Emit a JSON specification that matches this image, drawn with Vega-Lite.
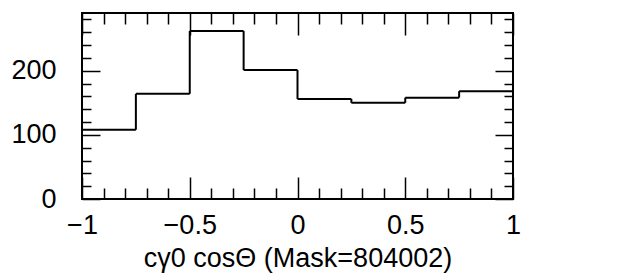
{
  "$schema": "https://vega.github.io/schema/vega-lite/v6.json",
  "width": 431,
  "height": 186,
  "autosize": {"type": "none"},
  "padding": {"left": 82, "top": 13, "right": 116, "bottom": 81},
  "background": "white",
  "config": {
    "view": {"stroke": "black", "strokeWidth": 2},
    "axis": {
      "grid": false,
      "domain": false,
      "labelFont": "Liberation Sans",
      "titleFont": "Liberation Sans",
      "labelFontSize": 27,
      "titleFontSize": 27,
      "titleFontWeight": "normal",
      "labelColor": "black",
      "titleColor": "black",
      "tickColor": "black",
      "tickWidth": 1.5
    }
  },
  "data": {
    "values": [
      {"lo": -1, "hi": -0.75, "count": 108},
      {"lo": -0.75, "hi": -0.5, "count": 164},
      {"lo": -0.5, "hi": -0.25, "count": 262},
      {"lo": -0.25, "hi": 0, "count": 201},
      {"lo": 0, "hi": 0.25, "count": 156},
      {"lo": 0.25, "hi": 0.5, "count": 150},
      {"lo": 0.5, "hi": 0.75, "count": 158},
      {"lo": 0.75, "hi": 1, "count": 168}
    ]
  },
  "layer": [
    {
      "mark": {"type": "rule", "strokeWidth": 2, "color": "black"},
      "encoding": {
        "x": {
          "field": "lo", "type": "quantitative",
          "scale": {"domain": [-1, 1], "nice": false, "zero": false},
          "axis": {
            "orient": "bottom",
            "values": [-1, -0.9, -0.8, -0.7, -0.6, -0.5, -0.4, -0.3, -0.2, -0.1, 0, 0.1, 0.2, 0.3, 0.4, 0.5, 0.6, 0.7, 0.8, 0.9, 1],
            "labelExpr": "abs(datum.value*2-round(datum.value*2))<0.001 ? format(datum.value, '~g') : ''",
            "tickSize": {"condition": {"test": "abs(datum.value*2-round(datum.value*2))<0.001", "value": -22}, "value": -11},
            "labelPadding": 35,
            "labelBaseline": "top",
            "labelFlush": false,
            "labelOverlap": false,
            "title": "cγ0 cosΘ (Mask=804002)",
            "titlePadding": -4
          }
        },
        "x2": {"field": "hi"},
        "y": {
          "field": "count", "type": "quantitative",
          "scale": {"domain": [0, 290], "nice": false},
          "axis": {
            "orient": "left",
            "values": [0, 20, 40, 60, 80, 100, 120, 140, 160, 180, 200, 220, 240, 260, 280],
            "labelExpr": "datum.value % 100 == 0 ? datum.label : ''",
            "tickSize": {"condition": {"test": "datum.value % 100 == 0", "value": -18}, "value": -9},
            "labelPadding": 44,
            "labelOverlap": false,
            "labelFlush": false,
            "title": null
          }
        }
      }
    },
    {
      "transform": [
        {"window": [{"op": "lag", "field": "count", "as": "prev"}], "sort": [{"field": "lo"}]},
        {"filter": "datum.prev != null"}
      ],
      "mark": {"type": "rule", "strokeWidth": 2, "color": "black"},
      "encoding": {
        "x": {
          "field": "lo", "type": "quantitative",
          "axis": {
            "orient": "top",
            "values": [-1, -0.9, -0.8, -0.7, -0.6, -0.5, -0.4, -0.3, -0.2, -0.1, 0, 0.1, 0.2, 0.3, 0.4, 0.5, 0.6, 0.7, 0.8, 0.9, 1],
            "labels": false,
            "tickSize": {"condition": {"test": "abs(datum.value*2-round(datum.value*2))<0.001", "value": -22}, "value": -11},
            "title": null
          }
        },
        "y": {
          "field": "prev", "type": "quantitative",
          "axis": {
            "orient": "right",
            "values": [0, 20, 40, 60, 80, 100, 120, 140, 160, 180, 200, 220, 240, 260, 280],
            "labels": false,
            "tickSize": {"condition": {"test": "datum.value % 100 == 0", "value": -18}, "value": -9},
            "title": null
          }
        },
        "y2": {"field": "count"}
      }
    }
  ],
  "resolve": {"axis": {"x": "independent", "y": "independent"}}
}
